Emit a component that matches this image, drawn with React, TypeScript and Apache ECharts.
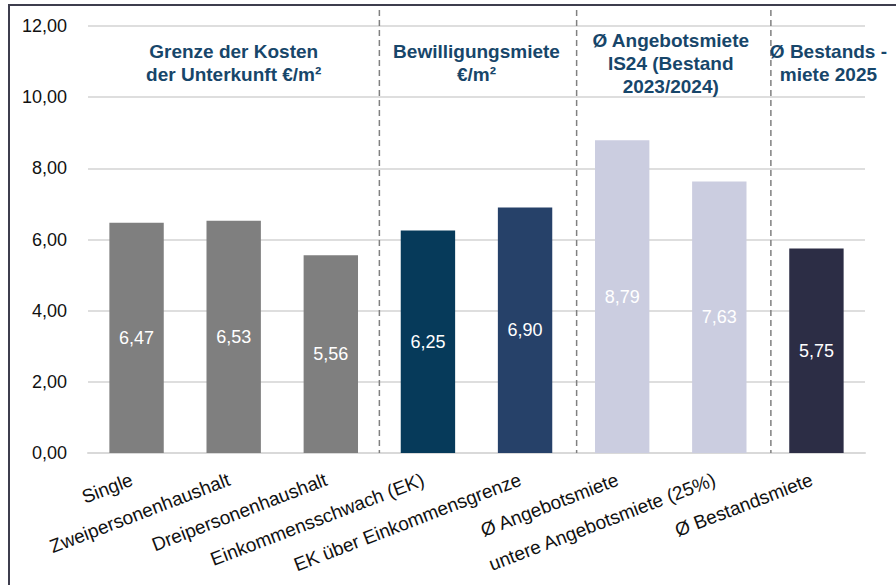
import React, { useEffect, useRef } from "react";
import * as echarts from "echarts";

const categories = [
  "Single",
  "Zweipersonenhaushalt",
  "Dreipersonenhaushalt",
  "Einkommensschwach (EK)",
  "EK über Einkommensgrenze",
  "Ø Angebotsmiete",
  "untere Angebotsmiete (25%)",
  "Ø Bestandsmiete",
];
const values = [6.47, 6.53, 5.56, 6.25, 6.9, 8.79, 7.63, 5.75];
const barColors = [
  "#7f7f7f",
  "#7f7f7f",
  "#7f7f7f",
  "#063a5a",
  "#264169",
  "#cbcde0",
  "#cbcde0",
  "#2c2d45",
];
const groupTitles = [
  "Grenze der Kosten\nder Unterkunft €/m²",
  "Bewilligungsmiete\n€/m²",
  "Ø Angebotsmiete\nIS24 (Bestand\n2023/2024)",
  "Ø Bestands -\nmiete 2025",
];
const groupFrom = [0, 3, 5, 7];
const groupTo = [2, 4, 6, 7];
const separatorsAfter = [2, 4, 6];

const FONT = "'Liberation Sans', Arial, sans-serif";
const fmt = (v: number) => v.toFixed(2).replace(".", ",");

export default function App() {
  const ref = useRef<HTMLDivElement>(null);
  useEffect(() => {
    if (!ref.current) return;
    const chart = echarts.init(ref.current, null, { renderer: "svg" });
    chart.setOption({
      animation: false,
      backgroundColor: "#ffffff",
      textStyle: { fontFamily: FONT },
      grid: { left: 88, right: 31, top: 26, bottom: 132, containLabel: false },
      graphic: [
        {
          type: "rect",
          shape: { x: 9, y: 5, width: 1000, height: 1000 },
          style: { fill: "none", stroke: "#3e3e4e", lineWidth: 2 },
          silent: true,
        },
      ],
      xAxis: {
        type: "category",
        data: categories,
        axisLine: { show: true, lineStyle: { color: "#d9d9d9", width: 2 } },
        axisTick: { show: false },
        axisLabel: {
          rotate: 21,
          interval: 0,
          margin: 24,
          fontSize: 19,
          color: "#111111",
          fontFamily: FONT,
          padding: [0, 5, 0, 0],
        },
      },
      yAxis: {
        type: "value",
        min: 0,
        max: 12,
        interval: 2,
        axisLine: { show: false },
        axisTick: { show: false },
        splitLine: { show: true, lineStyle: { color: "#dedede", width: 2 } },
        axisLabel: {
          formatter: (v: number) => fmt(v),
          fontSize: 18,
          color: "#111111",
          margin: 21,
          fontFamily: FONT,
        },
      },
      series: [
        {
          type: "bar",
          barWidth: "56%",
          data: values.map((v, i) => ({ value: v, itemStyle: { color: barColors[i] } })),
          label: {
            show: true,
            position: "inside",
            color: "#ffffff",
            fontSize: 18,
            fontFamily: FONT,
            formatter: (p: any) => fmt(p.value),
          },
          z: 2,
        },
        {
          type: "custom",
          clip: false,
          silent: true,
          z: 3,
          data: separatorsAfter.map((s) => [s, 0]),
          renderItem: (params: any, api: any) => {
            const p = api.coord([api.value(0), 0]);
            const w = api.size([1, 0])[0];
            const x = p[0] + w / 2 + (params.dataIndex === 0 ? 0 : 3);
            const top = params.coordSys.y - 16;
            return {
              type: "line",
              shape: { x1: x, y1: top, x2: x, y2: p[1] },
              style: { stroke: "#808080", lineWidth: 1.5, lineDash: [6, 4] },
            };
          },
        },
        {
          type: "custom",
          clip: false,
          silent: true,
          z: 4,
          data: groupTitles.map((_, i) => [groupFrom[i], groupTo[i]]),
          renderItem: (params: any, api: any) => {
            const a = api.coord([api.value(0), 0]);
            const b = api.coord([api.value(1), 0]);
            const x = (a[0] + b[0]) / 2 + (params.dataIndex === 3 ? 12 : 0);
            const y = params.coordSys.y + 37;
            return {
              type: "text",
              x,
              y,
              style: {
                text: groupTitles[params.dataIndex],
                align: "center",
                verticalAlign: "middle",
                fill: "#17466a",
                font: `bold 19px ${FONT}`,
                lineHeight: 23,
              },
            };
          },
        },
      ],
    });
    return () => chart.dispose();
  }, []);
  return (
    <div
      ref={ref}
      style={{ position: "absolute", left: 0, top: 0, width: 896, height: 585 }}
    />
  );
}
